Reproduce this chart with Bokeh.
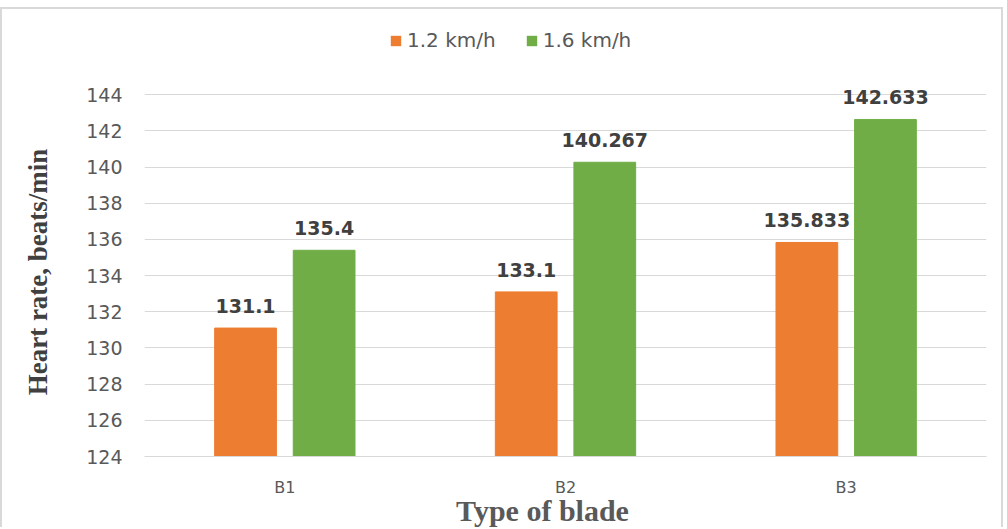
from bokeh.plotting import figure
from bokeh.layouts import column
from bokeh.models import (FactorRange, Range1d, FixedTicker, Legend, LegendItem,
                          Label, ColumnDataSource)
from bokeh.transform import dodge
from bokeh.core.properties import value
from bokeh.embed import file_html
from bokeh.resources import INLINE

# ---- data ----
categories = ["B1", "B2", "B3"]
speed_1_2 = [131.1, 133.1, 135.833]
speed_1_6 = [135.4, 140.267, 142.633]
series_names = ["1.2 km/h", "1.6 km/h"]
y_ticks = [124, 126, 128, 130, 132, 134, 136, 138, 140, 142, 144]
x_title = "Type of blade"
y_title = "Heart rate, beats/min"

src = ColumnDataSource(dict(
    cat=categories,
    v1=speed_1_2,
    v2=speed_1_6,
    l1=[str(v) for v in speed_1_2],
    l2=[str(v) for v in speed_1_6],
))

ORANGE = "#ED7D31"
GREEN = "#70AD47"
GRID = "#d9d9d9"
BORDER = "2px solid #d9d9d9"

# ---------- legend strip (top) ----------
leg = figure(x_range=FactorRange(*categories), y_range=Range1d(-20, -10),
             width=1003, height=61, output_backend="svg", toolbar_location=None,
             x_axis_type=None, y_axis_type=None, min_border=0)
leg.outline_line_color = None
leg.styles = {"border-left": BORDER, "border-top": BORDER, "border-right": BORDER,
              "margin-top": "7px"}
lr1 = leg.vbar(x='cat', top='v1', width=0.2, source=src,
               fill_color=ORANGE, line_color=None, visible=False)
lr2 = leg.vbar(x='cat', top='v2', width=0.2, source=src,
               fill_color=GREEN, line_color=None, visible=False)
legend = Legend(items=[LegendItem(label=series_names[0], renderers=[lr1]),
                       LegendItem(label=series_names[1], renderers=[lr2])],
                location=(245, 18), orientation="horizontal",
                glyph_width=13, glyph_height=13, label_standoff=5, spacing=29,
                padding=4, margin=0, border_line_color=None,
                background_fill_alpha=0, inactive_fill_alpha=0,
                label_text_font="DejaVu Sans", label_text_font_size="20px",
                label_text_color="#595959")
leg.add_layout(legend)

# ---------- main chart ----------
p = figure(x_range=FactorRange(*categories), y_range=Range1d(124, 144.4),
           width=1003, height=435, output_backend="svg", toolbar_location=None,
           min_border_left=142, min_border_right=19, min_border_top=19,
           min_border_bottom=47)
p.styles = {"border-left": BORDER, "border-right": BORDER}

p.vbar(x=dodge('cat', -0.14, range=p.x_range), top='v1', width=0.22,
       source=src, fill_color=ORANGE, line_color=ORANGE)
p.vbar(x=dodge('cat', 0.14, range=p.x_range), top='v2', width=0.22,
       source=src, fill_color=GREEN, line_color=GREEN)

for col, lab, off in (("v1", "l1", -0.14), ("v2", "l2", 0.14)):
    p.text(x=dodge('cat', off, range=p.x_range), y=col, text=lab, source=src,
           text_align="center", text_baseline="alphabetic", y_offset=-22,
           text_font=value("DejaVu Sans"), text_font_style="bold",
           text_font_size="19px", text_color="#404040")

p.outline_line_color = None
p.xgrid.grid_line_color = None
p.ygrid.ticker = FixedTicker(ticks=y_ticks)
p.ygrid.grid_line_color = GRID

p.yaxis.ticker = FixedTicker(ticks=y_ticks)
p.yaxis.axis_line_color = None
p.yaxis.major_tick_line_color = None
p.yaxis.minor_tick_line_color = None
p.yaxis.major_tick_out = 0
p.yaxis.major_label_standoff = 22
p.yaxis.major_label_text_font = "DejaVu Sans"
p.yaxis.major_label_text_font_size = "19px"
p.yaxis.major_label_text_color = "#595959"
p.yaxis.axis_label = y_title
p.yaxis.axis_label_text_font = "Liberation Serif"
p.yaxis.axis_label_text_font_style = "bold"
p.yaxis.axis_label_text_font_size = "27px"
p.yaxis.axis_label_text_color = "#404040"
p.yaxis.axis_label_standoff = 30

p.xaxis.axis_line_color = GRID
p.xaxis.major_tick_line_color = None
p.xaxis.minor_tick_line_color = None
p.xaxis.major_tick_out = 0
p.xaxis.major_label_standoff = 21
p.xaxis.major_label_text_font = "DejaVu Sans"
p.xaxis.major_label_text_font_size = "16px"
p.xaxis.major_label_text_color = "#595959"

# ---------- x-axis title strip (bottom, transparent, overlapping) ----------
bot = figure(x_range=p.x_range, y_range=Range1d(0, 1),
             width=1003, height=40, output_backend="svg", toolbar_location=None,
             x_axis_type=None, y_axis_type=None, min_border=0)
bot.outline_line_color = None
bot.background_fill_alpha = 0
bot.border_fill_alpha = 0
bot.styles = {"border-left": BORDER, "border-right": BORDER, "margin-top": "-16px"}
bot.add_layout(Label(x=398, y=17, x_units="screen", y_units="screen",
                     text=x_title, text_align="center", text_baseline="alphabetic",
                     text_font="Liberation Serif", text_font_style="bold",
                     text_font_size="30px", text_color="#595959"))

layout = column(leg, p, bot, spacing=0)
open("out.html", "w").write(file_html(layout, INLINE))
